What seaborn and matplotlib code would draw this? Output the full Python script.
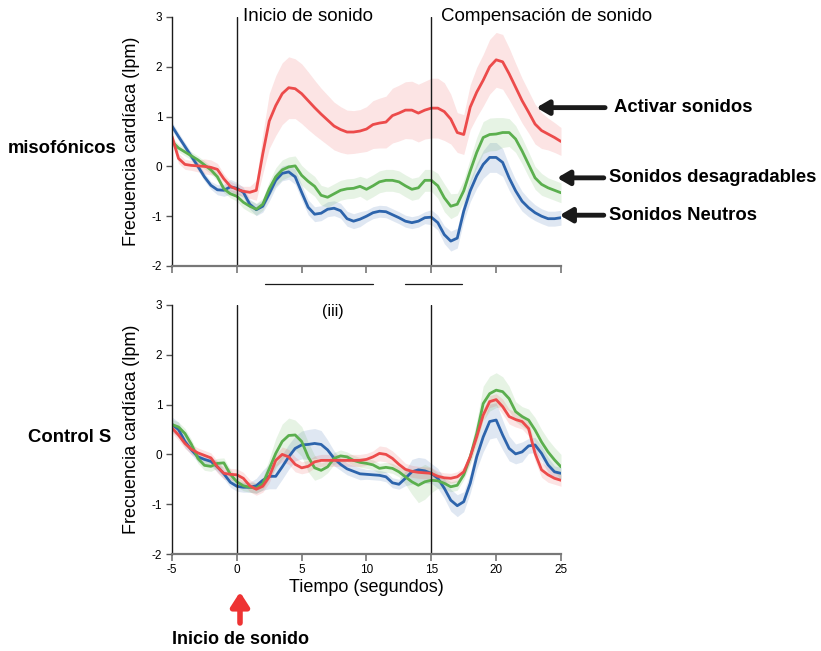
import numpy as np
import pandas as pd
import matplotlib
matplotlib.use("Agg")
import matplotlib.pyplot as plt
import seaborn as sns

# ---------------------------------------------------------------
# Datos – muestreo cada 0.5 s
# ---------------------------------------------------------------
tiempo = np.arange(-5, 25.01, 0.5)

# panel superior: misofónicos
miso_activar = [0.6, 0.16, 0.04, 0.02, 0.01, 0.0, -0.02, -0.06, -0.25, -0.4,
                -0.46, -0.5, -0.52, -0.48, 0.25, 0.91, 1.22, 1.46, 1.58, 1.56,
                1.46, 1.32, 1.18, 1.05, 0.93, 0.81, 0.74, 0.69, 0.69, 0.71,
                0.75, 0.84, 0.87, 0.89, 1.02, 1.07, 1.13, 1.13, 1.07, 1.13,
                1.17, 1.17, 1.1, 0.95, 0.68, 0.64, 1.19, 1.49, 1.73, 2.0,
                2.14, 2.1, 1.86, 1.59, 1.32, 1.09, 0.85, 0.72, 0.65, 0.58,
                0.5]
miso_activar_err = [0.1, 0.1, 0.1, 0.1, 0.12, 0.15, 0.15, 0.12, 0.1, 0.1,
                    0.1, 0.1, 0.12, 0.2, 0.4, 0.55, 0.6, 0.62, 0.62, 0.6,
                    0.6, 0.58, 0.55, 0.52, 0.5, 0.48, 0.46, 0.44, 0.43, 0.43,
                    0.45, 0.48, 0.5, 0.52, 0.55, 0.56, 0.57, 0.58, 0.58, 0.58,
                    0.6, 0.6, 0.58, 0.5, 0.4, 0.4, 0.45, 0.5, 0.52, 0.55,
                    0.55, 0.55, 0.52, 0.48, 0.45, 0.42, 0.4, 0.36, 0.32, 0.3,
                    0.28]
miso_desagr = [0.5, 0.37, 0.29, 0.21, 0.13, 0.03, -0.07, -0.21, -0.45, -0.55,
               -0.6, -0.72, -0.8, -0.86, -0.76, -0.45, -0.21, -0.07, -0.01, 0.01,
               -0.18, -0.3, -0.4, -0.58, -0.62, -0.55, -0.48, -0.45, -0.44, -0.4,
               -0.46, -0.39, -0.31, -0.28, -0.28, -0.31, -0.39, -0.46, -0.43, -0.28,
               -0.28, -0.39, -0.63, -0.8, -0.76, -0.49, -0.09, 0.28, 0.58, 0.64,
               0.65, 0.68, 0.68, 0.55, 0.31, 0.04, -0.23, -0.36, -0.43, -0.48,
               -0.53]
miso_desagr_err = [0.08] * 10 + \
                  [0.1, 0.12, 0.12, 0.12, 0.12, 0.15, 0.18, 0.2, 0.2, 0.2] + \
                  [0.2] * 10 + [0.22] * 10 + \
                  [0.22, 0.25, 0.28, 0.25, 0.22, 0.22, 0.25, 0.3, 0.32, 0.33,
                   0.33, 0.3, 0.28, 0.27, 0.26, 0.25, 0.23, 0.22, 0.2, 0.2, 0.2]
miso_neutro = [0.81, 0.6, 0.4, 0.2, 0.0, -0.21, -0.38, -0.47, -0.48, -0.41,
               -0.44, -0.52, -0.76, -0.87, -0.8, -0.55, -0.28, -0.14, -0.11, -0.21,
               -0.52, -0.82, -0.96, -0.94, -0.86, -0.84, -0.89, -1.05, -1.1, -1.06,
               -1.0, -0.93, -0.9, -0.91, -0.97, -1.03, -1.1, -1.13, -1.1, -1.03,
               -1.02, -1.13, -1.37, -1.5, -1.44, -0.9, -0.49, -0.19, 0.04, 0.18,
               0.18, 0.08, -0.23, -0.49, -0.7, -0.83, -0.93, -1.0, -1.05, -1.05,
               -1.03]
miso_neutro_err = [0.08] * 7 + [0.1, 0.12, 0.15] + \
                  [0.12, 0.1, 0.1, 0.12, 0.12, 0.15, 0.15, 0.15, 0.15, 0.15] + \
                  [0.15] * 10 + [0.12] * 10 + \
                  [0.15, 0.15, 0.18, 0.2, 0.2, 0.2, 0.22, 0.25, 0.28, 0.3,
                   0.3, 0.28, 0.25, 0.22, 0.2, 0.18, 0.16, 0.15, 0.15, 0.15, 0.15]

# panel inferior: control S
ctrl_activar = [0.53, 0.39, 0.22, 0.1, 0.03, -0.02, -0.07, -0.25, -0.38, -0.4,
                -0.41, -0.48, -0.63, -0.7, -0.64, -0.45, -0.12, 0.0, -0.05, -0.2,
                -0.27, -0.24, -0.15, -0.12, -0.12, -0.12, -0.12, -0.12, -0.12, -0.12,
                -0.1, -0.05, 0.02, 0.0, -0.08, -0.2, -0.3, -0.34, -0.36, -0.37,
                -0.38, -0.44, -0.47, -0.48, -0.45, -0.35, -0.05, 0.35, 0.79, 1.06,
                1.1, 0.96, 0.76, 0.7, 0.66, 0.52, 0.02, -0.31, -0.41, -0.48,
                -0.52]
ctrl_activar_err = [0.1] * 7 + [0.12] * 3 + \
                   [0.12] * 7 + [0.15] * 3 + [0.12] * 10 + \
                   [0.12, 0.12, 0.15, 0.15, 0.15, 0.15, 0.12, 0.12, 0.12, 0.12] + \
                   [0.12] + [0.1] * 5 + [0.12] * 4 + \
                   [0.12] + [0.15] * 8 + [0.12, 0.12]
ctrl_desagr = [0.6, 0.55, 0.42, 0.2, -0.08, -0.22, -0.24, -0.18, -0.17, -0.4,
               -0.55, -0.63, -0.66, -0.68, -0.59, -0.29, 0.02, 0.26, 0.38, 0.39,
               0.26, -0.05, -0.27, -0.32, -0.25, -0.08, -0.03, -0.05, -0.12, -0.16,
               -0.18, -0.21, -0.28, -0.26, -0.28, -0.35, -0.45, -0.55, -0.62, -0.55,
               -0.52, -0.53, -0.58, -0.65, -0.62, -0.41, -0.05, 0.42, 1.02, 1.22,
               1.29, 1.26, 1.12, 0.86, 0.76, 0.69, 0.49, 0.25, 0.05, -0.11,
               -0.25]
ctrl_desagr_err = [0.1] * 10 + \
                  [0.1, 0.1, 0.1, 0.1, 0.12, 0.2, 0.3, 0.35, 0.35, 0.3] + \
                  [0.3, 0.3, 0.25, 0.15, 0.12, 0.12, 0.12, 0.1, 0.1, 0.1] + \
                  [0.1, 0.1, 0.1, 0.1, 0.1, 0.1, 0.15, 0.25, 0.35, 0.35] + \
                  [0.25, 0.15, 0.12, 0.1, 0.1, 0.1, 0.15, 0.25, 0.35, 0.35] + \
                  [0.35, 0.3, 0.25, 0.2, 0.2, 0.22, 0.25, 0.25, 0.25, 0.25, 0.25]
ctrl_neutro = [0.6, 0.5, 0.26, 0.09, -0.05, -0.1, -0.14, -0.25, -0.39, -0.56,
               -0.64, -0.66, -0.66, -0.63, -0.52, -0.44, -0.44, -0.25, -0.05, 0.12,
               0.19, 0.2, 0.22, 0.2, 0.09, -0.08, -0.2, -0.29, -0.34, -0.39,
               -0.4, -0.41, -0.42, -0.45, -0.57, -0.6, -0.48, -0.35, -0.31, -0.33,
               -0.38, -0.48, -0.68, -0.92, -1.03, -0.95, -0.58, -0.05, 0.35, 0.66,
               0.69, 0.39, 0.12, 0.01, 0.05, 0.17, 0.19, 0.02, -0.21, -0.35,
               -0.38]
ctrl_neutro_err = [0.15, 0.15, 0.12] + [0.1] * 7 + \
                  [0.1, 0.1, 0.1, 0.15, 0.2, 0.25, 0.25, 0.25, 0.25, 0.25] + \
                  [0.28, 0.3, 0.3, 0.28, 0.2, 0.15, 0.12, 0.12, 0.12, 0.12] + \
                  [0.1] * 6 + [0.15, 0.25, 0.25, 0.25] + \
                  [0.2, 0.2, 0.2, 0.22, 0.22, 0.2, 0.2, 0.25, 0.3, 0.35] + \
                  [0.35, 0.3, 0.25, 0.2, 0.2, 0.15, 0.15, 0.15, 0.15, 0.12, 0.12]

condiciones = ["Sonidos Neutros", "Sonidos desagradables", "Activar sonidos"]
colores = {"Activar sonidos": "#EC4B4B",
           "Sonidos desagradables": "#5BAF4E",
           "Sonidos Neutros": "#2D64AC"}

paneles = {
    "misofónicos": {"Activar sonidos": (miso_activar, miso_activar_err),
                    "Sonidos desagradables": (miso_desagr, miso_desagr_err),
                    "Sonidos Neutros": (miso_neutro, miso_neutro_err)},
    "Control S": {"Activar sonidos": (ctrl_activar, ctrl_activar_err),
                  "Sonidos desagradables": (ctrl_desagr, ctrl_desagr_err),
                  "Sonidos Neutros": (ctrl_neutro, ctrl_neutro_err)},
}

# ---------------------------------------------------------------
# Estilo
# ---------------------------------------------------------------
sns.set_theme(style="ticks")
plt.rcParams["font.family"] = ["Liberation Sans", "DejaVu Sans"]
plt.rcParams["axes.unicode_minus"] = False
plt.rcParams["text.color"] = "black"
plt.rcParams["axes.labelcolor"] = "black"
plt.rcParams["xtick.labelcolor"] = "black"
plt.rcParams["ytick.labelcolor"] = "black"

fig = plt.figure(figsize=(8.21, 6.51), dpi=100)
ax1 = fig.add_axes([0.2095, 0.5914, 0.4738, 0.3825])
ax2 = fig.add_axes([0.2095, 0.1490, 0.4738, 0.3825])

for ax, (grupo, series) in zip([ax1, ax2], paneles.items()):
    filas = []
    for cond in condiciones:
        media, err = series[cond]
        media = np.array(media)
        err = np.array(err)
        ax.fill_between(tiempo, media - err, media + err,
                        color=colores[cond], alpha=0.15, lw=0)
        filas.append(pd.DataFrame({"tiempo": tiempo, "fc": media, "condicion": cond}))
    df = pd.concat(filas)
    sns.lineplot(data=df, x="tiempo", y="fc", hue="condicion",
                 hue_order=condiciones, palette=colores, lw=2.0,
                 legend=False, ax=ax)

    ax.axvline(0, color="k", lw=1)
    ax.axvline(15, color="k", lw=1)
    ax.set_xlim(-5, 25)
    ax.set_ylim(-2, 3)
    ax.set_xticks([-5, 0, 5, 10, 15, 20, 25])
    ax.set_yticks([-2, -1, 0, 1, 2, 3])
    sns.despine(ax=ax)
    ax.spines["left"].set_color("k")
    ax.spines["left"].set_linewidth(1)
    ax.spines["bottom"].set_color("#777777")
    ax.spines["bottom"].set_linewidth(1.6)
    ax.tick_params(axis="y", direction="out", length=4, width=1,
                   color="#555555", labelsize=8.5, pad=3)
    ax.tick_params(axis="x", direction="out", length=5, width=1.2,
                   color="#777777", labelsize=8.5, pad=2)
    ax.set_ylabel("Frecuencia cardíaca (lpm)", fontsize=13)
    ax.yaxis.set_label_coords(-0.082, 0.5)
    ax.set_xlabel("")

ax1.set_xticklabels([])
ax2.set_xlabel("Tiempo (segundos)", fontsize=13, labelpad=2)

# textos superiores
ax1.text(0.45, 3, "Inicio de sonido", fontsize=13.5, va="center", ha="left")
ax1.text(15.75, 3, "Compensación de sonido", fontsize=13.5, va="center", ha="left")
ax2.text(7.4, 2.86, "(iii)", fontsize=11.5, va="center", ha="center")

# líneas horizontales entre paneles
ax2.plot([2.2, 10.5], [3.42, 3.42], color="k", lw=0.9, clip_on=False)
ax2.plot([13.0, 17.4], [3.42, 3.42], color="k", lw=0.9, clip_on=False)

# flechas y etiquetas a la derecha
etiquetas = [("Activar sonidos", (23.1, 1.18), 28.4, 614),
             ("Sonidos desagradables", (24.7, -0.23), 28.3, 609),
             ("Sonidos Neutros", (24.9, -0.98), 28.3, 609)]
for txt, punta, cola_x, px_txt in etiquetas:
    ax1.annotate("", xy=punta, xytext=(cola_x, punta[1]),
                 arrowprops=dict(arrowstyle="-|>,head_length=0.6,head_width=0.35",
                                 lw=3.5, color="k", shrinkA=0, shrinkB=0),
                 annotation_clip=False)
    y_fig = fig.transFigure.inverted().transform(ax1.transData.transform(punta))[1]
    fig.text(px_txt / 821, y_fig, txt, fontsize=13.3, fontweight="bold",
             va="center", ha="left")

# etiquetas de grupo
fig.text(8 / 821, 1 - 148 / 651, "misofónicos", fontsize=13.3, fontweight="bold",
         va="center", ha="left")
fig.text(28 / 821, 1 - 437 / 651, "Control S", fontsize=13.3, fontweight="bold",
         va="center", ha="left")

# flecha roja inferior
ax2.annotate("", xy=(240 / 821, 1 - 592 / 651), xytext=(240 / 821, 1 - 623 / 651),
             xycoords="figure fraction", textcoords="figure fraction",
             arrowprops=dict(arrowstyle="-|>,head_length=0.7,head_width=0.45",
                             lw=4, color="#EE3333", shrinkA=0, shrinkB=0),
             annotation_clip=False)
fig.text(172 / 821, 1 - 640 / 651, "Inicio de sonido", fontsize=13,
         fontweight="bold", va="center", ha="left")

fig.savefig("out.png", dpi=100)
